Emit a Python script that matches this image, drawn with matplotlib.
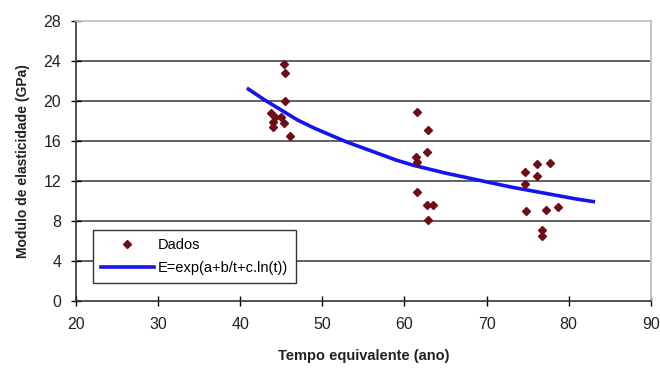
import matplotlib
matplotlib.use("Agg")
import matplotlib.pyplot as plt

plt.rcParams['font.family'] = ['Liberation Sans', 'DejaVu Sans']

# measured data (time in years, modulus in GPa)
t_dados = [45.4, 45.5, 45.5, 43.8, 44.2, 45.0, 44.0, 45.4, 44.0, 46.1,
           61.5, 62.9, 62.8, 61.4, 61.5, 61.5, 62.7, 63.5, 62.9,
           76.1, 77.7, 74.7, 76.2, 74.7, 74.8, 77.3, 78.7, 76.7, 76.7]
e_dados = [23.7, 22.8, 20.0, 18.8, 18.4, 18.4, 17.9, 17.8, 17.4, 16.5,
           18.9, 17.1, 14.9, 14.4, 13.9, 10.9, 9.6, 9.6, 8.1,
           13.7, 13.8, 12.9, 12.5, 11.7, 9.0, 9.1, 9.4, 7.1, 6.5]

# fitted curve E=exp(a+b/t+c.ln(t))
t_ajuste = [41, 43, 45, 47, 49, 51, 53, 55, 57, 59, 61,
            63, 65, 67, 69, 71, 73, 75, 77, 79, 81, 83]
e_ajuste = [21.2, 20.1, 19.1, 18.1, 17.3, 16.6, 15.9, 15.3, 14.7, 14.1, 13.6,
            13.2, 12.8, 12.45, 12.1, 11.75, 11.4, 11.1, 10.8, 10.5, 10.2, 9.95]

x_ticks = [20, 30, 40, 50, 60, 70, 80, 90]
y_ticks = [0, 4, 8, 12, 16, 20, 24, 28]

fig = plt.figure(figsize=(6.6, 3.69), dpi=100)
ax = fig.add_axes([0.115, 0.184, 0.871, 0.759])

for y in y_ticks[1:-1]:
    ax.axhline(y, color='#555555', lw=1.3, zorder=1)

ax.plot(t_dados, e_dados, linestyle='none', marker='D', ms=4,
        color='#6e0c18', label='Dados', zorder=3)
ax.plot(t_ajuste, e_ajuste, color='#1414f0', lw=2.6,
        label='E=exp(a+b/t+c.ln(t))', zorder=2)

ax.set_xlim(20, 90)
ax.set_ylim(0, 28)
ax.set_xticks(x_ticks)
ax.set_yticks(y_ticks)
ax.tick_params(direction='inout', length=7, width=1, labelsize=11.5,
               colors='black', labelcolor='#222222')
ax.tick_params(axis='x', pad=8)
ax.tick_params(axis='y', pad=7)

for s in ['top', 'right']:
    ax.spines[s].set_color('#c0c0c0')
    ax.spines[s].set_linewidth(1.3)
for s in ['left', 'bottom']:
    ax.spines[s].set_color('#333333')
    ax.spines[s].set_linewidth(1.2)

ax.set_xlabel('Tempo equivalente (ano)', fontsize=10.5, fontweight='bold',
              color='#222222', labelpad=12)
ax.set_ylabel('Modulo de elasticidade (GPa)', fontsize=10, fontweight='bold',
              color='#222222', labelpad=10)

leg = ax.legend(loc='lower left', bbox_to_anchor=(0.03, 0.065), fontsize=10.5,
                frameon=True, fancybox=False, edgecolor='#333333',
                framealpha=1, borderpad=0.55, handlelength=3.6,
                handletextpad=0.3, labelspacing=0.6, borderaxespad=0)
leg.get_frame().set_linewidth(1.0)

fig.savefig('out.png', dpi=100, facecolor='white')
